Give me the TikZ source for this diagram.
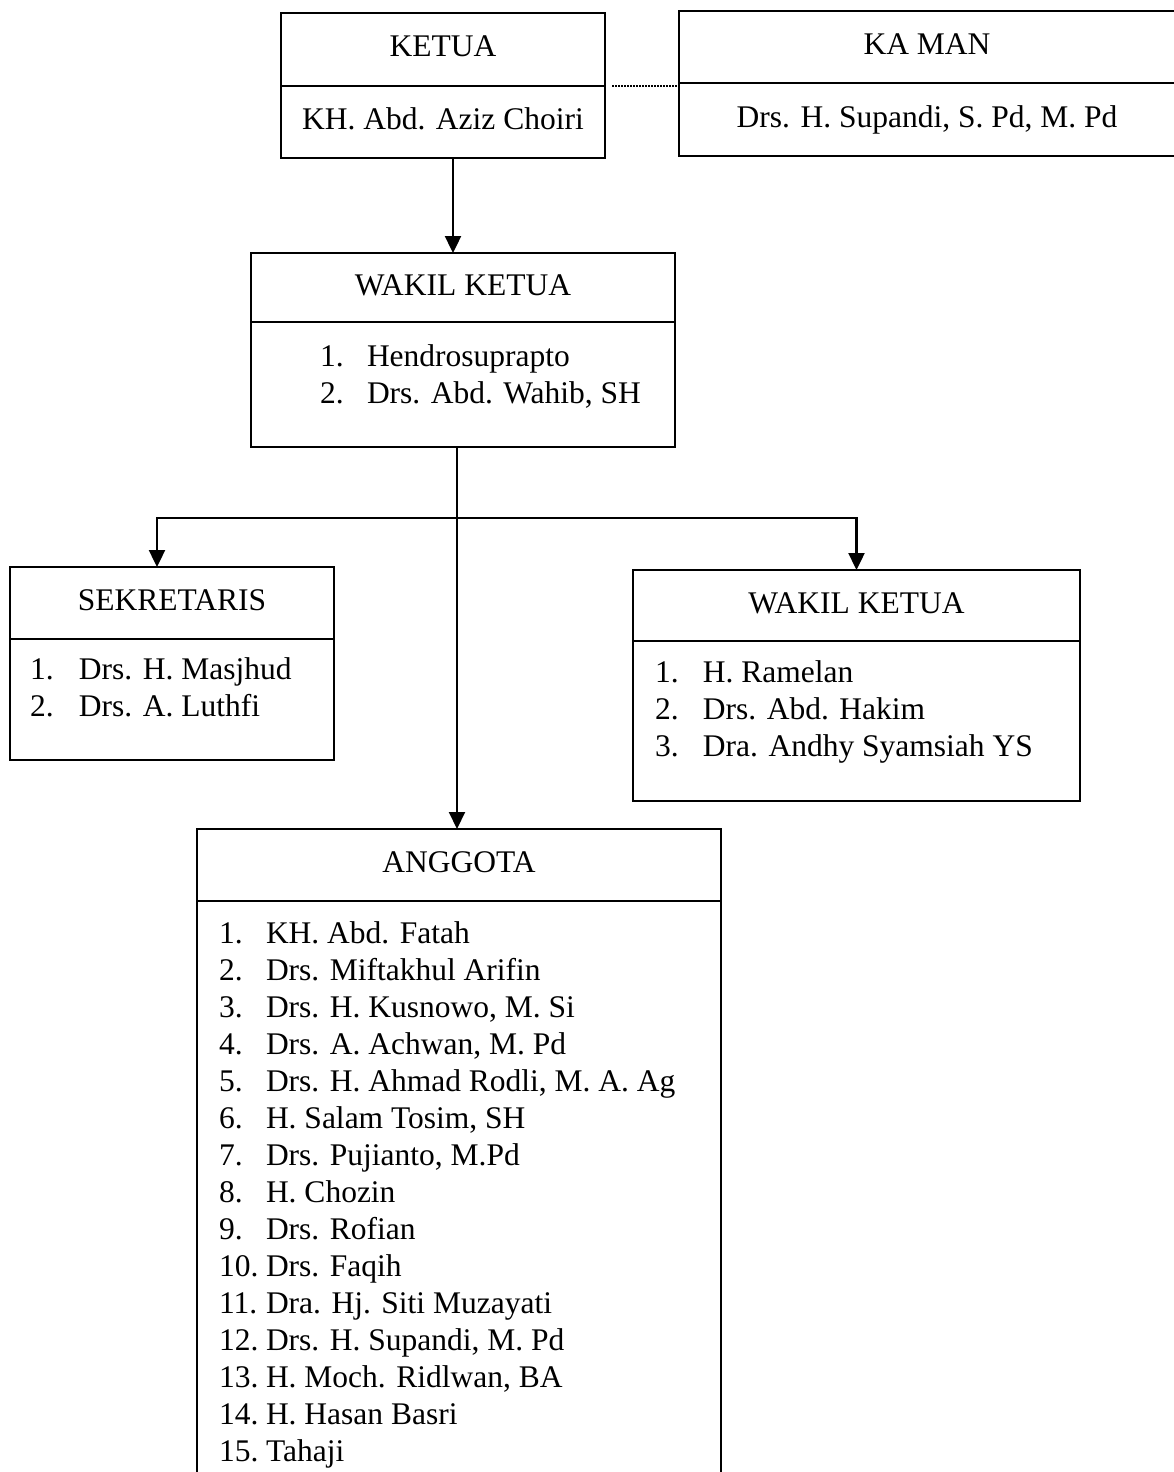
\documentclass[tikz,border=0pt]{standalone}
\usepackage{fontspec}
\setmainfont{Liberation Serif}
\usepackage{tikz}
\usetikzlibrary{arrows.meta,positioning,calc}

\tikzset{
  kotak/.style={draw, line width=2.6pt, inner sep=0pt, outer sep=0pt, text height=22pt, text depth=7pt},
  daftar/.style={inner sep=0pt, outer sep=0pt, anchor=base west},
  panah/.style={line width=2.4pt, -{Triangle[width=16pt,length=17pt]}},
}
% isi kotak ka man (kotaknya terpotong di tepi kanan)
\newcommand{\isiKaman}[1]{\makebox[496pt]{#1}\hspace{64pt}}

\begin{document}
\begin{tikzpicture}[x=1pt,y=-1pt,font=\fontsize{31.5}{37}\selectfont]
\useasboundingbox (0,0) rectangle (1173,1472);

% ketua dan ka man
\node[kotak, minimum width=324pt, minimum height=73pt] (ketua) at (443,49.5) {KETUA};
\node[kotak, minimum width=324pt, minimum height=72pt, below=0pt of ketua] (ketuaNama) {KH. Abd. Aziz Choiri};
\node[kotak, minimum height=72pt, anchor=west] (kaman) at (679,47) {\isiKaman{KA MAN}};
\node[kotak, minimum height=73pt, below=0pt of kaman] (kamanNama) {\isiKaman{Drs. H. Supandi, S. Pd, M. Pd}};

% wakil ketua
\node[kotak, minimum width=424pt, minimum height=69pt] (wakil) at (463,287.5) {WAKIL KETUA};
\node[kotak, minimum width=424pt, minimum height=125pt, below=0pt of wakil] (wakilIsi) {};
\node[daftar] (wakilDaftar) at (320,366) {\begin{tabular}[t]{@{}p{47pt}@{}l@{}}
1. & Hendrosuprapto\\
2. & Drs. Abd. Wahib, SH
\end{tabular}};

% sekretaris
\node[kotak, minimum width=324pt, minimum height=72pt] (sekretaris) at (172,603) {SEKRETARIS};
\node[kotak, minimum width=324pt, minimum height=121pt, below=0pt of sekretaris] (sekretarisIsi) {};
\node[daftar] (sekretarisDaftar) at (30,679) {\begin{tabular}[t]{@{}p{49pt}@{}l@{}}
1. & Drs. H. Masjhud\\
2. & Drs. A. Luthfi
\end{tabular}};

% wakil ketua kedua
\node[kotak, minimum width=447pt, minimum height=71pt] (wakilDua) at (856.5,605.5) {WAKIL KETUA};
\node[kotak, minimum width=447pt, minimum height=160pt, below=0pt of wakilDua] (wakilDuaIsi) {};
\node[daftar] (wakilDuaDaftar) at (655,682) {\begin{tabular}[t]{@{}p{48pt}@{}l@{}}
1. & H. Ramelan\\
2. & Drs. Abd. Hakim\\
3. & Dra. Andhy Syamsiah YS
\end{tabular}};

% anggota
\node[kotak, minimum width=524pt, minimum height=72pt] (anggota) at (459,865) {ANGGOTA};
\node[kotak, minimum width=524pt, minimum height=600pt, below=0pt of anggota] (anggotaIsi) {};
\node[daftar] (anggotaDaftar) at (219,943) {\begin{tabular}[t]{@{}p{47pt}@{}l@{}}
1. & KH. Abd. Fatah\\
2. & Drs. Miftakhul Arifin\\
3. & Drs. H. Kusnowo, M. Si\\
4. & Drs. A. Achwan, M. Pd\\
5. & Drs. H. Ahmad Rodli, M. A. Ag\\
6. & H. Salam Tosim, SH\\
7. & Drs. Pujianto, M.Pd\\
8. & H. Chozin\\
9. & Drs. Rofian\\
10. & Drs. Faqih\\
11. & Dra. Hj. Siti Muzayati\\
12. & Drs. H. Supandi, M. Pd\\
13. & H. Moch. Ridlwan, BA\\
14. & H. Hasan Basri\\
15. & Tahaji
\end{tabular}};

% garis penghubung
\draw[line width=1.6pt, dash pattern=on 1.6pt off 1.4pt, shorten <=7pt] (ketua.south east) -- (ketua.south east -| kamanNama.west);
\draw[panah] ([xshift=10pt]ketuaNama.south) -- ([xshift=10pt]ketuaNama.south |- wakil.north);
\coordinate (cabang) at ($(wakilIsi.south)+(-6,71)$);
\draw[panah, line width=2pt] ([xshift=-6pt]wakilIsi.south) -- (cabang |- anggota.north);
\draw[panah] (cabang) -| ([xshift=-15pt]sekretaris.north);
\draw[panah] (cabang) -| (wakilDua.north);
\end{tikzpicture}
\end{document}
